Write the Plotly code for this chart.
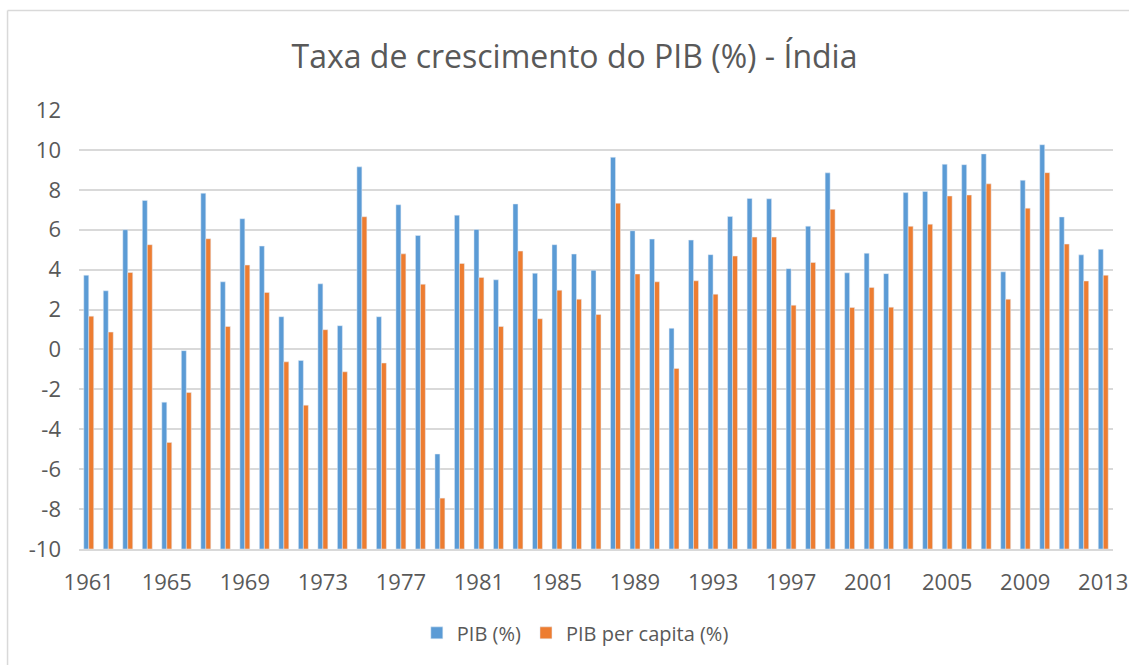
import plotly.graph_objects as go

years = [str(y) for y in range(1961, 2014)]
pib = [3.72, 2.94, 6.00, 7.47, -2.64, -0.06, 7.83, 3.39, 6.55, 5.18,
       1.64, -0.55, 3.29, 1.19, 9.15, 1.64, 7.25, 5.71, -5.24, 6.73,
       6.01, 3.49, 7.29, 3.82, 5.25, 4.78, 3.97, 9.63, 5.95, 5.53,
       1.06, 5.48, 4.75, 6.66, 7.57, 7.55, 4.05, 6.18, 8.85, 3.84,
       4.82, 3.80, 7.86, 7.92, 9.28, 9.26, 9.80, 3.89, 8.48, 10.26,
       6.64, 4.74, 5.02]
pib_pc = [1.67, 0.87, 3.86, 5.25, -4.66, -2.16, 5.55, 1.15, 4.23, 2.86,
          -0.62, -2.79, 0.99, -1.12, 6.65, -0.68, 4.79, 3.27, -7.45, 4.31,
          3.61, 1.15, 4.93, 1.54, 2.97, 2.52, 1.75, 7.33, 3.78, 3.39,
          -0.95, 3.44, 2.77, 4.68, 5.63, 5.63, 2.22, 4.36, 7.02, 2.10,
          3.11, 2.12, 6.17, 6.28, 7.69, 7.74, 8.30, 2.52, 7.08, 8.86,
          5.28, 3.43, 3.72]
tick_years = [str(y) for y in range(1961, 2014, 4)]
y_ticks = [-10, -8, -6, -4, -2, 0, 2, 4, 6, 8, 10, 12]
y_tick_text = [str(v) for v in y_ticks]  # plain hyphen-minus as in the original

y_min, y_max = -10, 12  # Excel draws bars up from the axis minimum

title_text = "Taxa de crescimento do PIB (%) - Índia"
font_family = "Open Sans, Liberation Sans, sans-serif"
text_color = "#595959"
grid_color = "#d9d9d9"

fig = go.Figure()
fig.add_trace(go.Bar(x=years, y=[v - y_min for v in pib], base=y_min,
                     name="PIB (%)", marker_color="#5B9BD5",
                     customdata=pib, hovertemplate="%{x}: %{customdata}<extra>PIB (%)</extra>"))
fig.add_trace(go.Bar(x=years, y=[v - y_min for v in pib_pc], base=y_min,
                     name="PIB per capita (%)", marker_color="#ED7D31",
                     customdata=pib_pc, hovertemplate="%{x}: %{customdata}<extra>PIB per capita (%)</extra>"))

W, H = 1129, 665
fig.update_layout(
    width=W, height=H,
    margin=dict(l=79, r=16, t=110, b=116, autoexpand=False),
    paper_bgcolor="white", plot_bgcolor="white",
    barmode="group", bargap=0.49, bargroupgap=0,
    font=dict(family=font_family, color=text_color, size=22),
    title=dict(text=title_text, x=574.5 / W, xanchor="center", xref="container",
               y=1 - 57 / H, yanchor="middle", yref="container",
               font=dict(size=32, color=text_color, family=font_family)),
    legend=dict(orientation="h", x=0.48, xanchor="center", y=-0.191, yanchor="middle",
                font=dict(size=20, color=text_color), traceorder="normal"),
    xaxis=dict(type="category", tickmode="array", tickvals=tick_years, ticktext=tick_years,
               automargin=False,
               showgrid=False, showline=True, linecolor=grid_color, linewidth=1.5,
               ticks="", tickfont=dict(size=22, color=text_color), ticklabelstandoff=13),
    yaxis=dict(range=[y_min, y_max], tickmode="array", tickvals=y_ticks, ticktext=y_tick_text,
               automargin=False,
               showgrid=True, gridcolor=grid_color,
               gridwidth=1.5, zeroline=True, zerolinecolor=grid_color, zerolinewidth=1.5,
               ticks="", tickfont=dict(size=22, color=text_color), ticklabelstandoff=17,
               fixedrange=True),
    shapes=[
        dict(type="line", xref="paper", yref="paper", x0=-0.0691, x1=1.0155, y0=1.2267, y1=1.2267,
             line=dict(color="#d9d9d9", width=1.5)),
        dict(type="line", xref="paper", yref="paper", x0=-0.0691, x1=-0.0691, y0=1.2267, y1=-0.2642,
             line=dict(color="#d9d9d9", width=1.5)),
    ],
)

fig.write_html(
    "out.html",
    config={"displayModeBar": False},
    post_script="document.body.style.margin='0';document.body.style.overflow='hidden';",
)
